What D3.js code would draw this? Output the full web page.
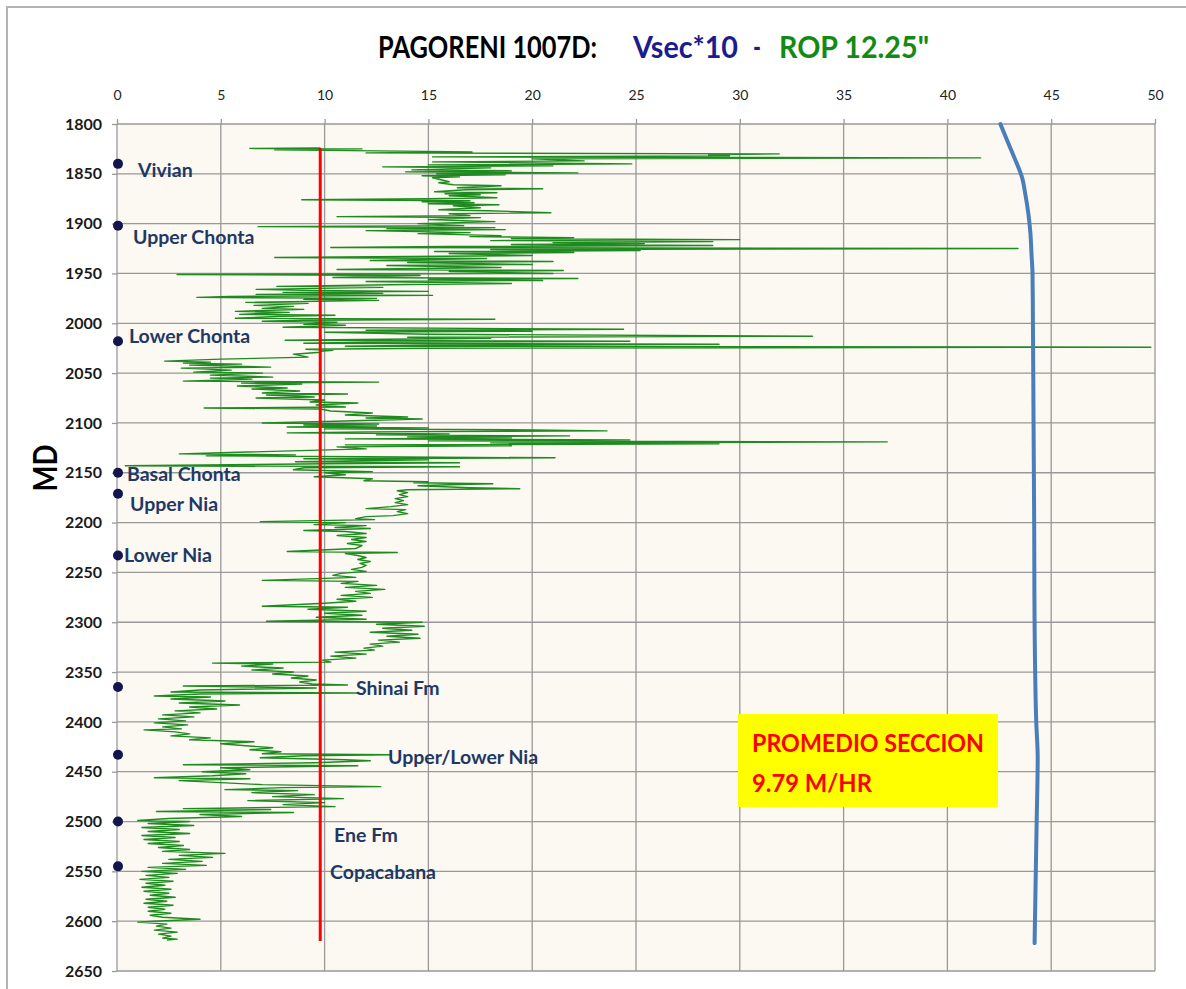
<!DOCTYPE html>
<html><head><meta charset="utf-8">
<script src="https://cdn.jsdelivr.net/npm/d3@7"></script>
<style>body{margin:0;background:#fff}</style>
</head><body>
<svg id="chart" width="1186" height="989"></svg>
<script>
// ---------------- DATA ----------------
const xTicks = [0,5,10,15,20,25,30,35,40,45,50];
const yTicks = [1800,1850,1900,1950,2000,2050,2100,2150,2200,2250,2300,2350,2400,2450,2500,2550,2600,2650];

const titleParts = ["PAGORENI 1007D:", "Vsec*10", "-", "ROP 12.25\""];
const yAxisTitle = "MD";

// ROP 12.25" (m/hr) versus measured depth (m)
const ropDepth = [1824,1824.5,1825,1826,1827,1828,1829,1830,1831,1832,1833,1834,1835,1837,1838,1840,1841,1842,1843,1844,1846,1847,1848,1849,1850,1851,1852,1853,1854,1856,1858,1859,1861,1862,1864,1865,1866,1868,1869,1870,1871,1872,1874,1875,1876,1877,1878,1879,1880,1881,1882,1884,1886,1887,1889,1890,1892,1893,1894,1896,1898,1900,1902,1903,1904,1905,1906,1907,1909,1910,1912,1913,1914,1915,1916,1917,1918,1919,1920,1921,1922,1923,1924,1925,1926,1927,1928,1929,1930,1932,1934,1935,1937,1938,1939,1941,1942,1944,1946,1947,1948,1950,1951,1952,1954,1955,1956,1957,1958,1960,1961,1963,1964,1966,1967,1968,1969,1970,1971,1972,1973,1974,1975,1976,1977,1979,1980,1982,1983,1985,1986,1988,1989,1991,1992,1993,1995,1996,1997,1998,1999,2001,2002,2004,2006,2007,2008,2009,2011,2013,2014,2015,2017,2018,2019,2020,2021,2022,2023,2024,2025,2026,2027,2028,2029,2031,2034,2036,2038,2039,2040,2041,2042,2044,2045,2047,2049,2050,2052,2054,2055,2056,2058,2059,2060,2061,2063,2065,2066,2068,2070,2071,2072,2074,2075,2077,2079,2080,2082,2084,2085,2086,2088,2090,2092,2094,2095,2096,2098,2100,2101,2102,2103,2104,2105,2106,2107,2108,2109,2110,2111,2112,2113,2114,2115,2116,2117,2118,2119,2120,2121,2122,2123,2124,2126,2131,2132,2133,2134,2135,2136,2137,2139,2140,2141,2143,2144,2145,2147,2149,2150,2152,2154,2156,2158,2159,2160,2161,2162,2163,2165,2166,2167,2168,2170,2172,2174,2176,2178,2180,2182,2184,2186,2187,2189,2191,2193,2194,2196,2197,2199,2200,2202,2203,2205,2206,2208,2209,2211,2213,2215,2217,2219,2221,2223,2226,2229,2230,2231,2233,2235,2237,2239,2241,2243,2245,2247,2249,2251,2253,2255,2258,2259,2261,2263,2265,2267,2269,2271,2273,2275,2277,2279,2281,2284,2285,2287,2289,2291,2293,2295,2297,2299,2300,2302,2304,2306,2308,2310,2312,2314,2316,2318,2320,2322,2324,2326,2328,2330,2332,2334,2336,2338,2340,2341,2342,2344,2346,2348,2350,2352,2354,2356,2358,2360,2362,2363,2364,2366,2368,2370,2371,2372,2374,2375,2377,2379,2381,2383,2385,2387,2389,2391,2393,2395,2397,2399,2401,2403,2405,2407,2408,2410,2412,2414,2416,2418,2420,2422,2424,2426,2428,2430,2432,2433,2434,2436,2438,2439,2441,2443,2444,2446,2448,2450,2452,2454,2456,2457,2459,2461,2463,2465,2466,2468,2469,2471,2473,2475,2477,2479,2481,2483,2485,2487,2488,2490,2491,2493,2495,2497,2499,2500,2502,2504,2506,2508,2510,2512,2514,2516,2518,2520,2522,2524,2526,2528,2530,2532,2534,2536,2538,2540,2542,2544,2546,2548,2550,2552,2554,2556,2558,2560,2562,2564,2566,2568,2570,2572,2574,2576,2578,2580,2582,2584,2586,2588,2590,2592,2594,2596,2598,2600,2601,2603,2605,2607,2609,2611,2613,2615,2617,2618,2619];
const ropRate = [9.8,6.4,11.8,7.6,12.5,17.1,12,31.9,28.5,29.5,15.2,41.6,20,22.5,15.2,24.8,15,21,12.8,18,14.2,19,13.9,22.2,15.4,18.7,14.7,16.5,15.2,15.6,16.0,15.5,16.2,18.5,16.4,20.5,16.8,15.3,18.3,15.8,17.5,16,18.3,15,8.9,17.0,14.7,17.2,15,18.4,16.2,17.5,15.5,17.8,20.9,16,17,10.6,17.5,15,18.2,14.5,16.7,6.8,18.2,13,18.7,12,17,14.5,18.5,17,22,19,30,18,28.7,21,25.4,19,28.7,16,10.3,43.4,18,25.2,15.3,22,16,20,7.6,17.8,12.2,21,14,20,13,18.5,10.6,21.5,16,21,2.9,14.6,10.4,22.2,15,20.5,12,19,14,7.7,12.8,6.7,9,15,8,12.8,6.7,15.2,5.4,3.85,12.5,9,12.6,6.2,9.2,6.6,8.5,7,9,5.7,8.3,5.9,10.5,8,5.7,18.2,9,7,10.6,9,11,8,24.4,12,20,10,15,33.5,14,18,8.1,24.7,12,9,29,15,11,49.8,15,9.1,10.4,9.8,9.8,8.5,9.2,5,2.3,4.5,3.2,6,3.5,7.4,3.1,5.5,3.7,7,4.5,7.5,4.5,6.5,3.2,12.6,6,8.9,5.8,8.2,6.5,8.8,7,11.1,7.2,9.5,6.7,10,9.3,11.6,9.6,11,4.2,9.8,10.3,12.3,11,14,12,14.7,11,7.0,12.6,9,12.5,8.2,15,10,20,23.6,12,8.2,16,12.5,21.8,14,19,11,24.7,15,37.1,18,29,11,19,10.6,12,3,8.6,4.3,12,21.1,9,15,8.6,16.5,10,0.4,16.5,9,8.5,12.3,10,11,9.5,12.3,11.9,15,14.3,18.1,16,14.5,17,19.4,14,13.5,14,13.6,14,13.4,13.8,13.4,14,13.2,12,13.9,13.5,14,13.3,12,11.5,12.4,6.9,11,9.5,12,10.5,12.2,9,11,12,10.6,12,11.3,12,11.1,11.8,11.5,8.2,13.5,11,11.6,12,11.6,12.2,11.7,12,11.8,11.3,12,10.8,10.4,11.5,7.0,11.6,10.8,12.5,11,12.9,11.5,12.2,10.8,12.3,10.6,11.5,10,7.0,11.1,9.2,12,10,11.8,9.6,12,7.2,14.7,12.5,14.8,12.8,14.2,12.2,14.5,13,14.6,12.6,13.6,12.2,12.8,11.9,12.4,10.5,12,10.3,11.5,9.9,10.3,4.6,7.5,6,8,6.5,8.5,7.5,9.2,8.4,9.6,8.8,9.4,11.1,3.2,9.6,4,2.6,11.6,4,1.8,4.5,2.6,5.2,3,5.9,3.5,4.8,2.8,4,2.2,3.7,2,3.3,1.8,3.4,2.2,3.1,1.3,2.8,3.5,2.6,4.5,3.5,6.6,5,6.2,7.5,6.4,7.9,7,13.2,9,6.9,11,12.2,9.5,3.2,11.6,5,6.4,4.1,6.2,4.6,1.8,6.4,3,5,7,12.7,8,5.2,8.7,6.5,9.5,7.5,10.9,6.3,10,8,10.5,3.2,7.4,1.9,8.5,4,6,2.5,1,3.5,1.5,3.7,1.2,3,1.5,3.5,1.2,2.8,1.3,3,1.5,3.2,2,3.5,2.2,5.2,3,4.6,2.5,4.1,2.2,4.3,1.5,3.3,1.2,2.9,1.4,2.5,1.1,2.7,1.4,2.3,1.2,2.6,1.3,2.5,1.6,2.8,1.4,2.4,1.3,2.7,1.5,2.3,1.5,2.6,1.6,2.2,4,1.8,1,2.4,1.9,2.6,1.8,2.9,2,2.6,2.2,2.9,2.4];

// Vsec*10 versus depth
const vsecDepth = [1800,1810,1820,1835,1854,1870,1890,1910,1930,1950,2000,2100,2200,2300,2400,2436,2500,2560,2622];
const vsecValue = [42.55,42.75,42.95,43.25,43.6,43.75,43.9,44.0,44.05,44.1,44.12,44.15,44.18,44.2,44.28,44.35,44.3,44.25,44.2];

// Section average ROP
const avgRate = 9.79;
const avgDepthRange = [1824, 2620];
const avgBoxLines = ["PROMEDIO SECCION", "9.79 M/HR"];

// Formation tops
const formationNames = ["Vivian","Upper Chonta","Lower Chonta","Basal Chonta","Upper Nia","Lower Nia","Shinai Fm","Upper/Lower Nia","Ene Fm","Copacabana"];
const formationDepth = [1840,1902,2018,2150,2171,2233,2365,2433,2500,2545];

// ---------------- LAYOUT ----------------
const labelOffset = [[20,13],[15,18],[11,2],[9,8],[12,17],[6,7],[238,8],[270,9],[216,20],[212,13]];
const titleX = [378, 633, 753, 779];
const titleW = [219, 105, 8, 150];
const titleColors = ["#000","#1c1c8c","#1c1c8c","#138a13"];

const svg = d3.select("#chart");
const x = d3.scaleLinear().domain([0,50]).range([117,1155]);
const y = d3.scaleLinear().domain([1800,2650]).range([124,971]);

// outer frame
svg.append("rect").attr("x",7).attr("y",7).attr("width",1200).attr("height",1000)
  .attr("fill","#fff").attr("stroke","#b4b4b4").attr("stroke-width",2);

// plot background
svg.append("rect").attr("x",x(0)).attr("y",y(1800))
  .attr("width",x(50)-x(0)).attr("height",y(2650)-y(1800)).attr("fill","#fcf8f2");

// grid
const grid = svg.append("g").attr("stroke","#999").attr("stroke-width",1.3);
grid.selectAll("line.v").data(xTicks).join("line").attr("class","v")
  .attr("x1",d=>x(d)).attr("x2",d=>x(d)).attr("y1",y(1800)).attr("y2",y(2650));
grid.selectAll("line.h").data(yTicks).join("line").attr("class","h")
  .attr("x1",x(0)).attr("x2",x(50)).attr("y1",d=>y(d)).attr("y2",d=>y(d));

// axes
const axTop = svg.append("g").attr("transform",`translate(0,${y(1800)})`)
  .call(d3.axisTop(x).tickValues(xTicks).tickSizeInner(5).tickSizeOuter(0).tickPadding(19).tickFormat(d3.format("d")));
axTop.select(".domain").remove();
axTop.selectAll("line").attr("stroke","#999").attr("stroke-width",1.3);
axTop.selectAll("text").attr("font-family","Lato, 'Liberation Sans', sans-serif").attr("font-size",14).attr("fill","#222");

const axLeft = svg.append("g").attr("transform",`translate(${x(0)},0)`)
  .call(d3.axisLeft(y).tickValues(yTicks).tickSizeInner(5).tickSizeOuter(0).tickPadding(10).tickFormat(d3.format("d")));
axLeft.select(".domain").remove();
axLeft.selectAll("line").attr("stroke","#999").attr("stroke-width",1.3);
axLeft.selectAll("text").attr("font-family","Lato, 'Liberation Sans', sans-serif").attr("font-size",16)
  .attr("font-weight","bold").attr("fill","#1a1a1a");

// y axis title
svg.append("text").attr("transform","translate(57,468) rotate(-90)")
  .attr("text-anchor","middle").attr("font-family","Lato, sans-serif").attr("font-weight","bold")
  .attr("font-size",33).attr("textLength",47).attr("lengthAdjust","spacingAndGlyphs").attr("fill","#000").text(yAxisTitle);

// title (separate pieces)
svg.selectAll("text.title").data(titleParts).join("text").attr("class","title")
  .attr("x",(d,i)=>titleX[i]).attr("y",58)
  .attr("font-family","Lato, sans-serif").attr("font-weight","bold").attr("font-size",30)
  .attr("textLength",(d,i)=>titleW[i]).attr("lengthAdjust","spacingAndGlyphs")
  .attr("fill",(d,i)=>titleColors[i]).text(d=>d);

// ROP line
const ropPts = ropDepth.map((d,i)=>[ropRate[i], d]);
svg.append("path").datum(ropPts)
  .attr("d", d3.line().x(p=>x(p[0])).y(p=>y(p[1])))
  .attr("fill","none").attr("stroke","#1f8a1f").attr("stroke-width",1.4).attr("stroke-linejoin","round");

// Vsec line
const vsecPts = vsecDepth.map((d,i)=>[vsecValue[i], d]);
svg.append("path").datum(vsecPts)
  .attr("d", d3.line().x(p=>x(p[0])).y(p=>y(p[1])).curve(d3.curveMonotoneY))
  .attr("fill","none").attr("stroke","#4a7ebb").attr("stroke-width",4).attr("stroke-linecap","round");

// average line
svg.append("line").attr("x1",x(avgRate)).attr("x2",x(avgRate))
  .attr("y1",y(avgDepthRange[0])).attr("y2",y(avgDepthRange[1]))
  .attr("stroke","#ff0000").attr("stroke-width",3);

// formation markers
const fm = formationNames.map((n,i)=>({name:n, depth:formationDepth[i], off:labelOffset[i]}));
svg.selectAll("circle.fm").data(fm).join("circle").attr("class","fm")
  .attr("cx",x(0)+1).attr("cy",d=>y(d.depth)).attr("r",5).attr("fill","#14144e");
svg.selectAll("text.fm").data(fm).join("text").attr("class","fm")
  .attr("x",d=>x(0)+1+d.off[0]).attr("y",d=>y(d.depth)+d.off[1])
  .attr("font-family","Lato, sans-serif").attr("font-weight","bold").attr("font-size",19.5)
  .attr("fill","#1f3864").text(d=>d.name);

// average box
svg.append("rect").attr("x",738).attr("y",714).attr("width",260).attr("height",93).attr("fill","#ffff00");
const boxW = [232,120];
svg.selectAll("text.box").data(avgBoxLines).join("text").attr("class","box")
  .attr("x",752).attr("y",(d,i)=>752+i*40)
  .attr("font-family","Lato, sans-serif").attr("font-weight","bold").attr("font-size",25)
  .attr("textLength",(d,i)=>boxW[i]).attr("lengthAdjust","spacingAndGlyphs")
  .attr("fill","#ff0000").text(d=>d);
</script>
</body></html>
